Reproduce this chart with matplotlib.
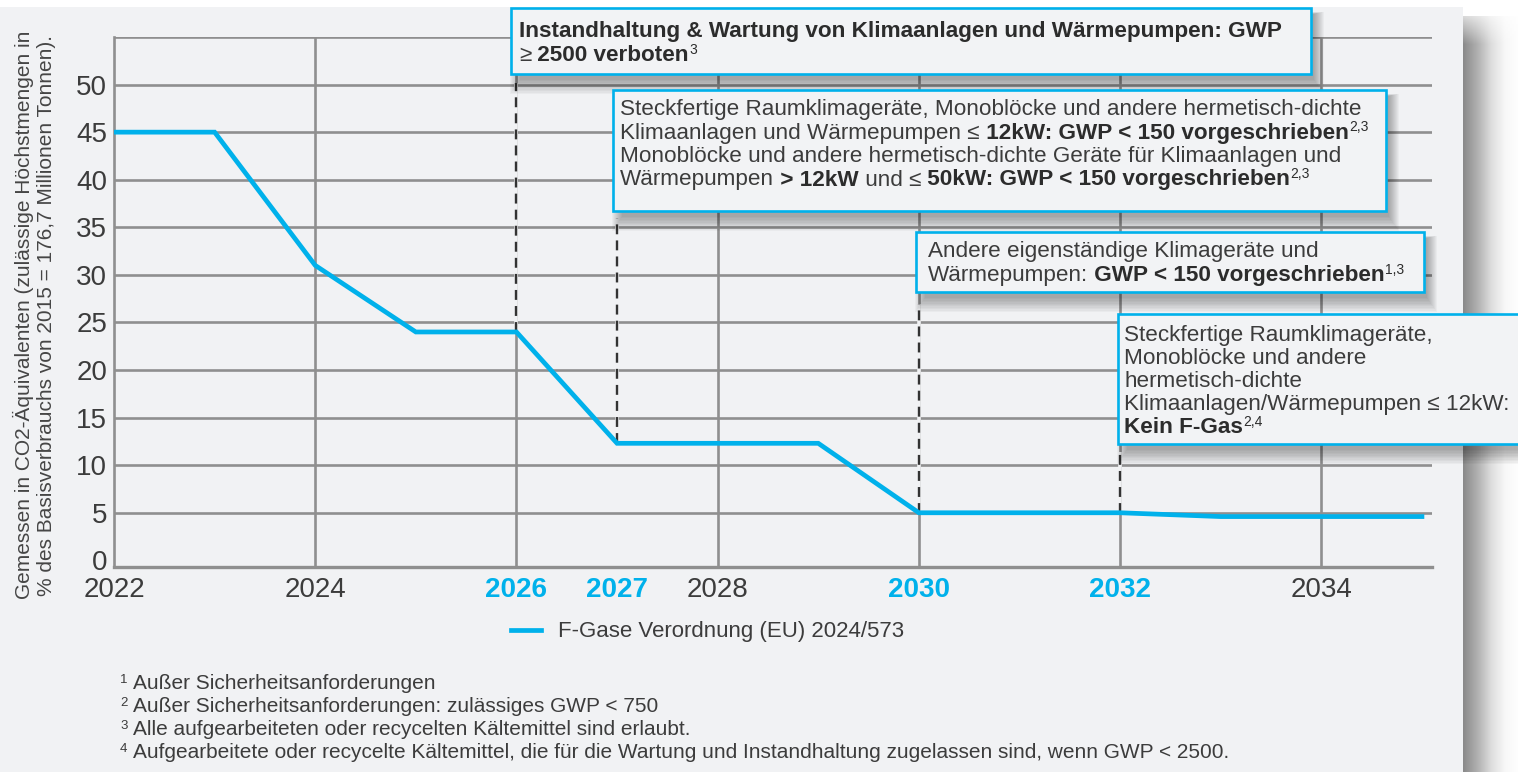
import numpy as np
import matplotlib
matplotlib.use("Agg")
import matplotlib.pyplot as plt
from matplotlib.patches import Rectangle
from matplotlib.colors import LinearSegmentedColormap

# ---------------- data ----------------
years = [2022, 2023, 2024, 2025, 2026, 2027, 2028, 2029, 2030, 2031, 2032, 2033, 2034, 2035]
values = [45, 45, 31, 24, 24, 12.3, 12.3, 12.3, 5.0, 5.0, 5.0, 4.6, 4.6, 4.6]
xtick_years = [2022, 2024, 2026, 2027, 2028, 2030, 2032, 2034]
highlight_years = [2026, 2027, 2030, 2032]
grid_years = [2024, 2026, 2028, 2030, 2032, 2034]
ytick_values = [0, 5, 10, 15, 20, 25, 30, 35, 40, 45, 50]
grid_values = [5, 10, 15, 20, 25, 30, 35, 40, 45, 50, 55]
series_label = "F-Gase Verordnung (EU) 2024/573"
ylabel_text = ("Gemessen in CO2-Äquivalenten (zulässige Höchstmengen in\n"
               "% des Basisverbrauchs von 2015 = 176,7 Millionen Tonnen).")
footnotes = [
    ("1", "Außer Sicherheitsanforderungen"),
    ("2", "Außer Sicherheitsanforderungen: zulässiges GWP < 750"),
    ("3", "Alle aufgearbeiteten oder recycelten Kältemittel sind erlaubt."),
    ("4", "Aufgearbeitete oder recycelte Kältemittel, die für die Wartung und Instandhaltung zugelassen sind, wenn GWP < 2500."),
]
# box texts: list of lines, each line a list of (text, style) with style in r/b/sup
box1_lines = [
    [("Instandhaltung & Wartung von Klimaanlagen und Wärmepumpen: GWP", "b")],
    [("≥", "r"), (" 2500 verboten", "b"), ("3", "sup")],
]
box2_lines = [
    [("Steckfertige Raumklimageräte, Monoblöcke und andere hermetisch-dichte", "r")],
    [("Klimaanlagen und Wärmepumpen ≤", "r"), (" 12kW: GWP < 150 vorgeschrieben", "b"), ("2,3", "sup")],
    [("Monoblöcke und andere hermetisch-dichte Geräte für Klimaanlagen und", "r")],
    [("Wärmepumpen", "r"), (" > 12kW", "b"), (" und ≤", "r"), (" 50kW: GWP < 150 vorgeschrieben", "b"), ("2,3", "sup")],
]
box3_lines = [
    [("Andere eigenständige Klimageräte und", "r")],
    [("Wärmepumpen:", "r"), (" GWP < 150 vorgeschrieben", "b"), ("1,3", "sup")],
]
box4_lines = [
    [("Steckfertige Raumklimageräte,", "r")],
    [("Monoblöcke und andere", "r")],
    [("hermetisch-dichte", "r")],
    [("Klimaanlagen/Wärmepumpen ≤ 12kW:", "r")],
    [("Kein F-Gas", "b"), ("2,4", "sup")],
]

# ---------------- style ----------------
W, H = 1518, 772
BG = "#f1f2f4"
BOXBG = "#f2f3f5"
GRID = "#8f8f8f"
BLUE = "#00b1eb"
TXT = "#3c3c3c"
BTXT = "#2c2c2c"
FONT = ["Liberation Sans", "DejaVu Sans"]
plt.rcParams["font.family"] = FONT

fig = plt.figure(figsize=(W / 100, H / 100), dpi=100, facecolor="white")

# background card + shadow
bg = fig.add_axes([0, 0, 1, 1], zorder=-10)
bg.set_xlim(0, W)
bg.set_ylim(H, 0)
bg.axis("off")
bg.add_patch(Rectangle((0, 7), 1463, H, color=BG, lw=0))
cmap = LinearSegmentedColormap.from_list("sh", ["#8a8a8a", "#b0b0b0", "#dedede", "#f8f8f8", "#ffffff"])
grad = np.linspace(0, 1, 100)[None, :]
bg.imshow(grad, extent=(1463, 1520, H, 16), cmap=cmap, aspect="auto", interpolation="bilinear")
vgrad = np.linspace(1, 0, 40)[:, None] * np.ones((1, 100))
bg.imshow(np.ones((40, 100)), extent=(1463, 1520, 45, 7), cmap=LinearSegmentedColormap.from_list("w", ["white", "white"]),
          alpha=np.clip(vgrad, 0, 1) * 0.9, aspect="auto")
bg.set_xlim(0, W)
bg.set_ylim(H, 0)

# main axes
ax = fig.add_axes([114 / W, 1 - 567 / H, 1318 / W, 530 / H])
ax.set_facecolor("none")
ax.set_xlim(2022, 2035.1)
ax.set_ylim(-0.7, 55)

for v in grid_values:
    ax.axhline(v, color=GRID, lw=1.9, zorder=1)
for yr in grid_years:
    ax.axvline(yr, color=GRID, lw=1.9, zorder=1)

for s in ["top", "right"]:
    ax.spines[s].set_visible(False)
ax.spines["left"].set_color(GRID)
ax.spines["left"].set_linewidth(1.9)
ax.spines["bottom"].set_color(GRID)
ax.spines["bottom"].set_linewidth(2.4)

# milestone dashed connectors (from curve up towards annotation box)
milestone_tops = {2026: 50.2, 2027: 36.0, 2030: 26.9, 2032: 11.4}
for yr in highlight_years:
    v = np.interp(yr, years, values)
    top = milestone_tops[yr]
    ax.plot([yr, yr], [v, top], color=BG, lw=2.6, zorder=2, solid_capstyle="butt")
    ax.plot([yr, yr], [v, top], color="#333333", lw=1.7, ls=(0, (4.2, 2.6)), zorder=3)

ax.plot(years, values, color=BLUE, lw=3.4, zorder=4, label=series_label,
        solid_joinstyle="miter")

ax.set_xticks(xtick_years)
ax.set_xticklabels([str(y) for y in xtick_years])
for lab, yr in zip(ax.get_xticklabels(), xtick_years):
    lab.set_fontsize(20)
    if yr in highlight_years:
        lab.set_color(BLUE)
        lab.set_fontweight("bold")
    else:
        lab.set_color(TXT)
ax.set_yticks(ytick_values)
ax.set_yticklabels([str(v) for v in ytick_values], fontsize=20, color=TXT)
ax.tick_params(axis="x", length=0, pad=7)
ax.tick_params(axis="y", length=0, pad=5)

leg = ax.legend(loc="center left", bbox_to_anchor=(511 / W, 1 - 632 / H), bbox_transform=fig.transFigure,
                frameon=False, fontsize=16, handlelength=1.35, handletextpad=0.75,
                borderpad=0, borderaxespad=0, labelcolor=TXT)

# overlay for annotations (pixel coords)
ov = fig.add_axes([0, 0, 1, 1], zorder=5)
ov.set_xlim(0, W)
ov.set_ylim(H, 0)
ov.axis("off")

ov.text(34, 315, ylabel_text, rotation=90, ha="center", va="center", fontsize=15,
        linespacing=1.2, color="#454545", multialignment="center")

FS = 16.2


def rich_line(x, y, segs, fs=FS):
    prev = None
    for txt, st in segs:
        if prev is None:
            prev = ov.text(x, y, txt, fontsize=fs, va="baseline", ha="left",
                           fontweight="bold" if st == "b" else "normal",
                           color=BTXT if st == "b" else TXT)
        elif st == "sup":
            ov.annotate(txt, xy=(1, 0), xycoords=prev, xytext=(0.5, fs * 0.42), textcoords="offset points",
                        fontsize=fs * 0.62, va="bottom", ha="left",
                        fontweight="normal", color=BTXT)
        else:
            prev = ov.annotate(txt, xy=(1, 0), xycoords=prev, va="bottom", ha="left", fontsize=fs,
                               fontweight="bold" if st == "b" else "normal",
                               color=BTXT if st == "b" else TXT)


def box(x0, y0, x1, y1, lines, tx, baselines):
    for k in range(11):
        ov.add_patch(Rectangle((x0 + 9 - k, y0 + 6 - k * 0.2), (x1 - x0) - 6 + 2 * k, (y1 - y0) + 1.6 * k,
                               color="black", alpha=0.03, lw=0))
    ov.add_patch(Rectangle((x0, y0), x1 - x0, y1 - y0, facecolor=BOXBG, edgecolor=BLUE, lw=1.9))
    for segs, b in zip(lines, baselines):
        rich_line(tx, b, segs)


box(511, 8, 1311, 74, box1_lines, 519, [37, 61])
box(613, 90, 1386, 211, box2_lines, 620, [115, 138.5, 162, 185.5])
box(916, 232, 1424, 292, box3_lines, 928, [257, 281])
box(1118, 314, 1545, 444, box4_lines, 1124, [341, 364, 387, 410, 433])

for i, (num, txt) in enumerate(footnotes):
    b = 689 + 23 * i
    ov.text(120, b - 6, num, fontsize=9.5, color=TXT, va="baseline", ha="left")
    ov.text(133, b, txt, fontsize=15, color=TXT, va="baseline", ha="left")

fig.savefig("out.png", dpi=100, facecolor="white")
